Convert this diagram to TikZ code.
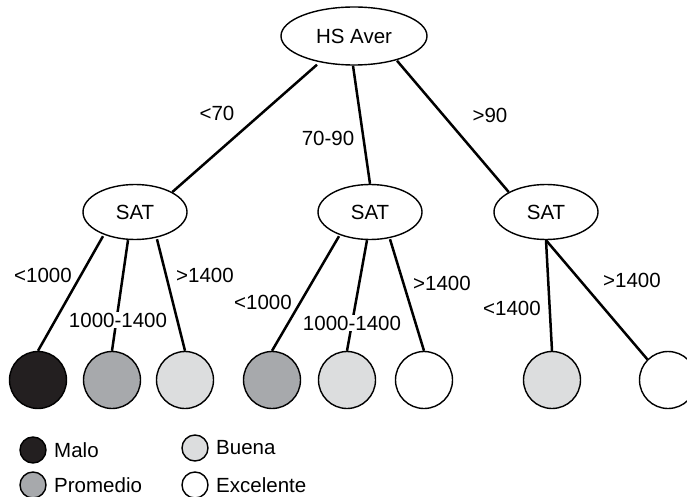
\documentclass[tikz,border=0pt]{standalone}
\usepackage{fontspec}
\setmainfont{Liberation Sans}
\usetikzlibrary{shapes.geometric}
\definecolor{cmalo}{HTML}{231F20}
\definecolor{cprom}{HTML}{A7A9AC}
\definecolor{cbuena}{HTML}{DCDDDE}
\begin{document}
\begin{tikzpicture}[x=1pt,y=-1pt,
  font=\fontsize{20.5}{24}\selectfont,
  oval/.style={draw,line width=1.4pt,ellipse,inner sep=0pt},
  leaf/.style={draw,line width=1.4pt,circle,minimum size=57pt,inner sep=0pt},
  legc/.style={draw,line width=1.4pt,circle,minimum size=26pt,inner sep=0pt},
  edge/.style={line width=2.5pt},
  lbl/.style={inner sep=1pt,fill=white},
  lblt/.style={inner sep=1pt},
  legt/.style={anchor=west,xshift=4pt}]
\clip (0,0) rectangle (687,497);
\useasboundingbox (0,0) rectangle (687,497);
\node[oval,minimum width=146pt,minimum height=58pt] (hs) at (354,36) {HS Aver};
\node[oval,minimum width=104pt,minimum height=55pt] (s1) at (135,212) {SAT};
\node[oval,minimum width=104pt,minimum height=55pt] (s2) at (370,212) {SAT};
\node[oval,minimum width=104pt,minimum height=55pt] (s3) at (546,212) {SAT};

\node[leaf,fill=cmalo] (l1) at (38,380) {};
\node[leaf,fill=cprom] (l2) at (112,380) {};
\node[leaf,fill=cbuena] (l3) at (185,380) {};
\node[leaf,fill=cprom] (l4) at (272,380) {};
\node[leaf,fill=cbuena] (l5) at (347,380) {};
\node[leaf,fill=white] (l6) at (424,380) {};
\node[leaf,fill=cbuena] (l7) at (552,380) {};
\node[leaf,fill=white] (l8) at (668,380) {};

% top edges
\coordinate (a1) at ([shift={(-37,-1)}]hs.south);
\coordinate (a2) at ([shift={(-1,0)}]hs.south);
\coordinate (a3) at ([shift={(43,-5)}]hs.south);
\draw[edge] (a1) -- (s1.north east);
\draw[edge] (a2) -- (s2.north);
\draw[edge] (a3) -- (s3.north west);
\node[lblt] (t1) at (217,113) {<70};
\node[lblt] (t2) at (328,138) {70-90};
\node[lblt] (t3) at (490,115) {>90};

% SAT1
\coordinate (b1) at ([shift={(-32,-4)}]s1.south);
\coordinate (b2) at ([shift={(-7,0)}]s1.south);
\coordinate (b3) at ([shift={(22,-1)}]s1.south);
\draw[edge] (b1) -- (l1.north);
\draw[edge] (b2) -- (l2.north);
\draw[edge] (b3) -- (l3.north);
\node[lblt] at (43,275) {<1000};
\node[lbl] at (118,320) {1000-1400};
\node[lblt] at (205,275) {>1400};

% SAT2
\coordinate (c1) at ([shift={(-31,-4)}]s2.south);
\coordinate (c2) at ([shift={(-3,0)}]s2.south);
\coordinate (c3) at ([shift={(20,-1)}]s2.south);
\draw[edge] (c1) -- (l4.north);
\draw[edge] (c2) -- (l5.north);
\draw[edge] (c3) -- (l6.north);
\node[lblt] at (263,302) {<1000};
\node[lbl] at (352,323) {1000-1400};
\node[lblt] at (442,283) {>1400};

% SAT3
\draw[edge] (s3.south) -- (l7.north);
\draw[edge] (s3.south) -- (l8.north west);
\node[lblt] at (512,308) {<1400};
\node[lblt] at (632,280) {>1400};

% legend
\node[legc,fill=cmalo] (m1) at (33,450) {};
\node[legt] at (m1.east) {Malo};
\node[legc,fill=cprom] (m2) at (33,485) {};
\node[legt] at (m2.east) {Promedio};
\node[legc,fill=cbuena] (m3) at (195,448) {};
\node[legt] at (m3.east) {Buena};
\node[legc,fill=white] (m4) at (195,485) {};
\node[legt] at (m4.east) {Excelente};
\end{tikzpicture}
\end{document}
